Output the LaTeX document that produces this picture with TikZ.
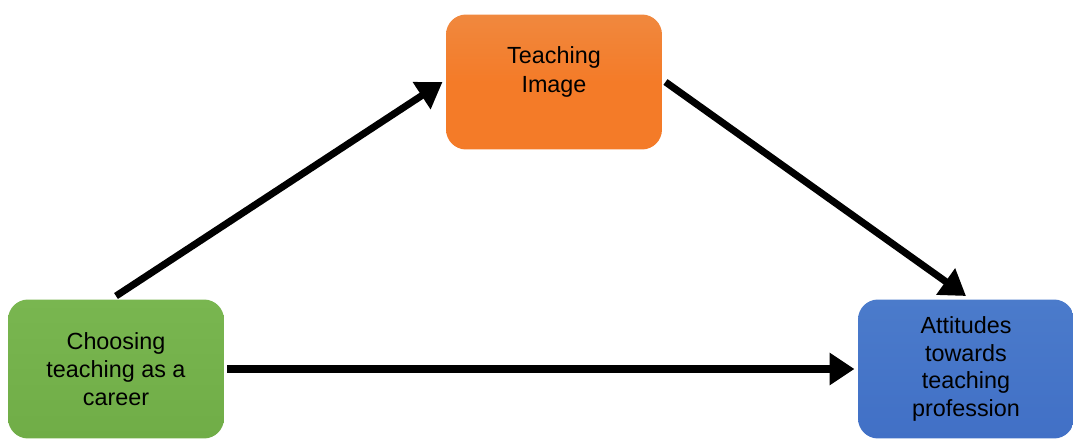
\documentclass[tikz,border=0pt]{standalone}
\usepackage{fontspec}
\setmainfont{Liberation Sans}
\usetikzlibrary{%
  arrows.meta,%
  shapes.misc,%
  positioning% wg. " of "
}
\definecolor{boxgreen}{HTML}{70AD47}
\definecolor{boxgreentop}{HTML}{79B650}
\definecolor{boxorange}{HTML}{F47B28}
\definecolor{boxorangetop}{HTML}{F0883E}
\definecolor{boxblue}{HTML}{4170C6}
\definecolor{boxbluetop}{HTML}{4B7BCB}

\begin{document}
\begin{tikzpicture}
  [
  x=0.02cm, y=-0.02cm,
  line width=4pt,
  draw=black, >={Triangle[length=0.5cm, width=0.62cm]},
  stagebox/.style={rectangle, rounded corners=0.4cm, inner sep=2pt,
    minimum width=4.32cm, minimum height=2.78cm, align=center,
    font=\fontsize{13.3}{15.8}\selectfont},
  ]
  \clip (0,0) rectangle (1073,439);

  \node[stagebox, minimum height=2.7cm, top color=boxorangetop, bottom color=boxorange, middle color=boxorange]
    (image) at (554,82) {Teaching\\[1pt]Image\\[-0.05cm]};
  \node[stagebox, top color=boxgreentop, bottom color=boxgreen]
    (choice) at (116,369) {Choosing\\teaching as a\\career};
  \node[stagebox, top color=boxbluetop, bottom color=boxblue]
    (attitude) at (966,369) {Attitudes\\towards\\teaching\\profession};

  \draw[->] (choice.north) -- (image.west);
  \draw[->] (image.east) -- (attitude.north);
  \draw[->] (choice.east) -- (attitude.west);
\end{tikzpicture}
\end{document}
